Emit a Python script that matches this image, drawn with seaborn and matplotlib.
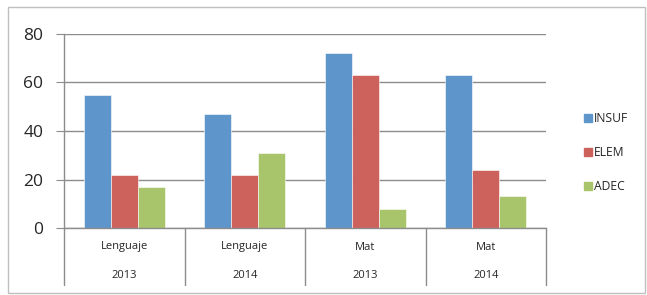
import matplotlib
matplotlib.use("Agg")
import matplotlib.pyplot as plt
import seaborn as sns
import pandas as pd
from matplotlib.lines import Line2D
from matplotlib.patches import Rectangle

# ---------------------------------------------
# Datos
# ---------------------------------------------

asignaturas = ["Lenguaje", "Lenguaje", "Mat", "Mat"]
anios = ["2013", "2014", "2013", "2014"]
niveles = ["INSUF", "ELEM", "ADEC"]

insuf = [55, 47, 72, 63]
elem = [22, 22, 63, 24]
adec = [17, 31, 8, 13]

colores = ["#5E95CB", "#CD625D", "#A9C56B"]

grupos = [f"{a} {y}" for a, y in zip(asignaturas, anios)]

filas = []
for nivel, valores in zip(niveles, [insuf, elem, adec]):
    for g, v in zip(grupos, valores):
        filas.append({"grupo": g, "nivel": nivel, "valor": v})
df = pd.DataFrame(filas)

# ---------------------------------------------
# Figura
# ---------------------------------------------

sns.set_style("white")
plt.rcParams["font.family"] = ["Open Sans", "DejaVu Sans"]

fig = plt.figure(figsize=(6.47, 2.95), dpi=100)
ax = fig.add_axes([64 / 647, 1 - 228 / 295, (546 - 64) / 647, (228 - 34) / 295])

sns.barplot(
    data=df, x="grupo", y="valor", hue="nivel",
    order=grupos, hue_order=niveles, palette=colores,
    width=0.67, saturation=1, ax=ax, legend=False,
    edgecolor="white", linewidth=0.4
)

ax.set_ylim(0, 80)
ax.set_xlim(-0.5, len(grupos) - 0.5)
ax.set_yticks([0, 20, 40, 60, 80])
ax.yaxis.grid(True, color="#8c8c8c", linewidth=1)
ax.set_axisbelow(True)
ax.tick_params(axis="y", direction="out", length=6, color="#8c8c8c",
               labelsize=12.5, pad=9, left=True)
ax.tick_params(axis="x", length=0, labelbottom=False)
ax.set_xlabel("")
ax.set_ylabel("")

for lado in ["top", "right"]:
    ax.spines[lado].set_visible(False)
for lado in ["left", "bottom"]:
    ax.spines[lado].set_color("#8c8c8c")
    ax.spines[lado].set_linewidth(1)

# ---------------------------------------------
# Eje de categorías en dos niveles
# ---------------------------------------------

trans = ax.get_xaxis_transform()
y_fondo = -(285 - 228) / (228 - 34)
for i in range(len(grupos) + 1):
    ax.add_line(Line2D([i - 0.5, i - 0.5], [0, y_fondo], transform=trans,
                       color="#8c8c8c", linewidth=1, clip_on=False))

for i, (a, y) in enumerate(zip(asignaturas, anios)):
    ax.text(i, -(247 - 228) / 194, a, transform=trans, ha="center",
            va="center", fontsize=8)
    ax.text(i, -(275 - 228) / 194, y, transform=trans, ha="center",
            va="center", fontsize=8)

# ---------------------------------------------
# Leyenda
# ---------------------------------------------

for k, (nivel, c) in enumerate(zip(niveles, colores)):
    yk = 1 - (118 + 34 * k) / 295
    fig.patches.append(Rectangle((584 / 647, yk - 3.5 / 295), 8 / 647, 8 / 295,
                                 transform=fig.transFigure, color=c))
    fig.text(594 / 647, yk, nivel, fontsize=8.7, va="center", ha="left")

# borde del gráfico
fig.patches.append(Rectangle((8 / 647, 2 / 295), 637 / 647, 286 / 295,
                             transform=fig.transFigure, fill=False,
                             edgecolor="#bfbfbf", linewidth=1))

fig.savefig("out.png", dpi=100)
